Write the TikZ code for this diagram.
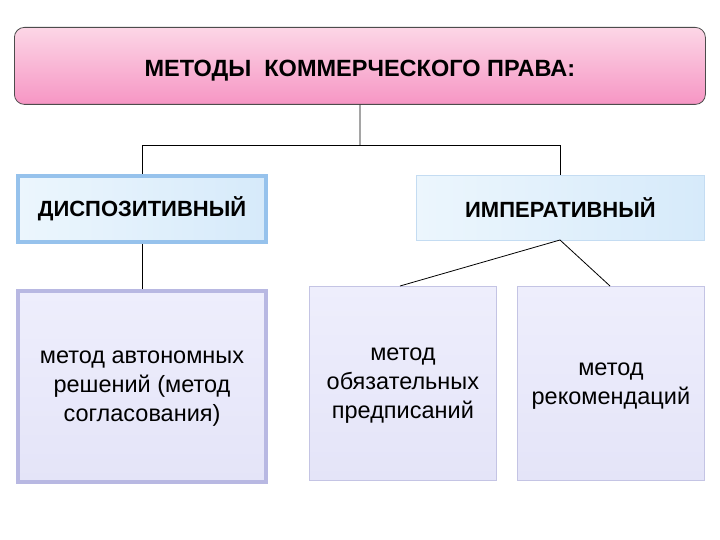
\documentclass[tikz,border=0pt]{standalone}
\usepackage{fontspec}
\setmainfont{Liberation Sans}
\definecolor{pinkT}{RGB}{252,214,230}
\definecolor{pinkB}{RGB}{246,150,196}
\definecolor{blueF}{RGB}{214,234,250}
\definecolor{blueL}{RGB}{236,246,253}
\definecolor{blueE}{RGB}{150,194,236}
\definecolor{blueE2}{RGB}{196,220,242}
\definecolor{lavF}{RGB}{228,228,248}
\definecolor{lavL}{RGB}{238,238,252}
\definecolor{lavE}{RGB}{184,184,226}
\definecolor{lavE2}{RGB}{196,196,228}
\begin{document}
\begin{tikzpicture}[x=1pt,y=-1pt,
  titlebox/.style={draw=black!70,line width=0.8pt,rounded corners=10pt,top color=pinkT,bottom color=pinkB,
    font=\fontsize{23.5}{27}\selectfont\bfseries,align=center,execute at begin node={\rule{0pt}{25pt}}},
  kindbox/.style={left color=blueL,right color=blueF,font=\fontsize{22}{26}\selectfont\bfseries,align=center},
  methbox/.style={top color=lavL,bottom color=lavF,font=\fontsize{23.5}{29}\selectfont,align=center,
    text depth=-4pt},
  conn/.style={draw=black,line width=0.8pt}]
\useasboundingbox (0,0) rectangle (720,540);
\fill[white] (0,0) rectangle (720,540);
% title
\node[titlebox,minimum width=691pt,minimum height=77pt,anchor=north west] (title) at (14,27) {МЕТОДЫ\ \ КОММЕРЧЕСКОГО ПРАВА:};
% kinds
\node[kindbox,draw=blueE,line width=4pt,minimum width=248pt,minimum height=66pt,anchor=north west] (disp) at (16,174) {ДИСПОЗИТИВНЫЙ};
\node[kindbox,draw=blueE2,line width=0.8pt,minimum width=288pt,minimum height=65pt,anchor=north west] (imp) at (416,175) {ИМПЕРАТИВНЫЙ};
% methods
\node[methbox,draw=lavE,line width=4pt,minimum width=248pt,minimum height=191pt,anchor=north west] (auto) at (16,289) {метод автономных\\решений (метод\\согласования)};
\node[methbox,draw=lavE2,line width=0.8pt,minimum width=187pt,minimum height=194pt,anchor=north west] (oblig) at (309,286) {метод\\обязательных\\предписаний};
\node[methbox,draw=lavE2,line width=0.8pt,minimum width=187pt,minimum height=194pt,anchor=north west] (recom) at (517,286) {метод\\рекомендаций};
% connectors
\coordinate (split) at (360,145);
\draw[conn] (title.south) -- (split);
\draw[conn] (split) -| (disp.north);
\draw[conn] (split) -| (imp.north);
\draw[conn] (disp.south) -- (auto.north);
\coordinate (ib) at (560,240);
\draw[conn] (ib) -- (400,286);
\draw[conn] (ib) -- (610,286);
\end{tikzpicture}
\end{document}
